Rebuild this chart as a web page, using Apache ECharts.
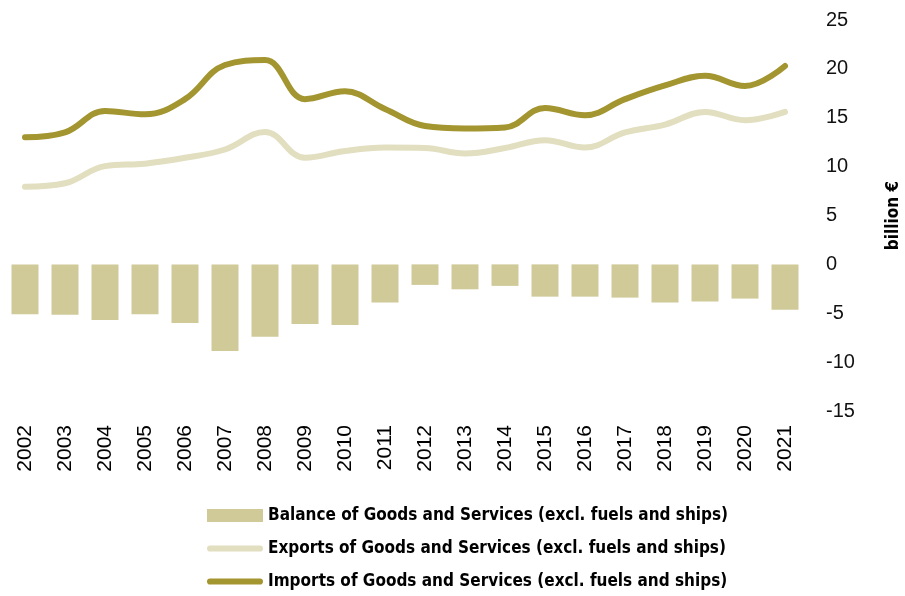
<!DOCTYPE html>
<html><head><meta charset="utf-8">
<script src="https://cdn.jsdelivr.net/npm/echarts@6/dist/echarts.min.js"></script>
<style>html,body{margin:0;padding:0;background:#fff}#c{width:905px;height:596px}</style>
</head><body><div id="c"></div>
<script>
const years = ['2002','2003','2004','2005','2006','2007','2008','2009','2010','2011','2012','2013','2014','2015','2016','2017','2018','2019','2020','2021'];
const balance = [-5.1,-5.15,-5.7,-5.1,-6.0,-8.85,-7.4,-6.1,-6.2,-3.9,-2.1,-2.55,-2.2,-3.3,-3.3,-3.4,-3.9,-3.8,-3.5,-4.65];
const exportsV = [7.95,8.3,10.05,10.3,10.9,11.75,13.55,10.9,11.6,11.95,11.9,11.35,11.9,12.7,11.95,13.5,14.3,15.6,14.75,15.6];
const importsV = [13.0,13.5,15.7,15.35,16.9,20.4,20.9,16.9,17.7,15.9,14.15,13.9,14.0,16.0,15.25,16.9,18.3,19.3,18.25,20.3];
const names = ['Balance of Goods and Services (excl. fuels and ships)','Exports of Goods and Services (excl. fuels and ships)','Imports of Goods and Services (excl. fuels and ships)'];
const yTicks = {min:-15, max:25, interval:5};

const narrow = '"Liberation Sans Narrow","DejaVu Sans Condensed",sans-serif';
const lineIcon = 'path://M3,0 L51,0 A3,3 0 0 1 51,6 L3,6 A3,3 0 0 1 3,0 Z';
const chart = echarts.init(document.getElementById('c'), null, {renderer:'canvas'});
chart.setOption({
  animation:false,
  backgroundColor:'#fff',
  grid:{left:5,right:100,top:20,bottom:185,containLabel:false,outerBoundsMode:'none'},
  legend:{
    orient:'vertical', left:202, top:502, itemWidth:56, itemHeight:13, itemGap:16,
    symbolKeepAspect:true,
    textStyle:{fontFamily:narrow, fontWeight:'bold', fontSize:17, color:'#000'},
    data:[{name:names[0], icon:'rect'},{name:names[1], icon:lineIcon},{name:names[2], icon:lineIcon}]
  },
  xAxis:{type:'category', data:years, position:'bottom',
    axisLine:{show:false}, axisTick:{show:false},
    axisLabel:{rotate:90, fontFamily:'"Liberation Sans",Arial,sans-serif', fontSize:21, color:'#000', margin:14}},
  yAxis:{type:'value', position:'right', min:yTicks.min, max:yTicks.max, interval:yTicks.interval,
    splitLine:{show:false}, axisLine:{show:false}, axisTick:{show:false},
    axisLabel:{fontFamily:'"Liberation Sans",Arial,sans-serif', fontSize:20, color:'#111', margin:21, align:'left'},
    name:'billion €', nameLocation:'middle', nameRotate:90, nameGap:80,
    nameTextStyle:{fontFamily:narrow, fontWeight:'bold', fontSize:17, color:'#000'}},
  series:[
    {name:names[0], type:'bar', data:balance, barWidth:27, itemStyle:{color:'#CFCA98'}},
    {name:names[1], type:'line', data:exportsV, smooth:0.4, symbol:'none',
      lineStyle:{color:'#E2DEC0', width:6, cap:'round'}, itemStyle:{color:'#E2DEC0'}},
    {name:names[2], type:'line', data:importsV, smooth:0.4, symbol:'none',
      lineStyle:{color:'#A39530', width:6, cap:'round'}, itemStyle:{color:'#A39530'}}
  ]
});
</script></body></html>
